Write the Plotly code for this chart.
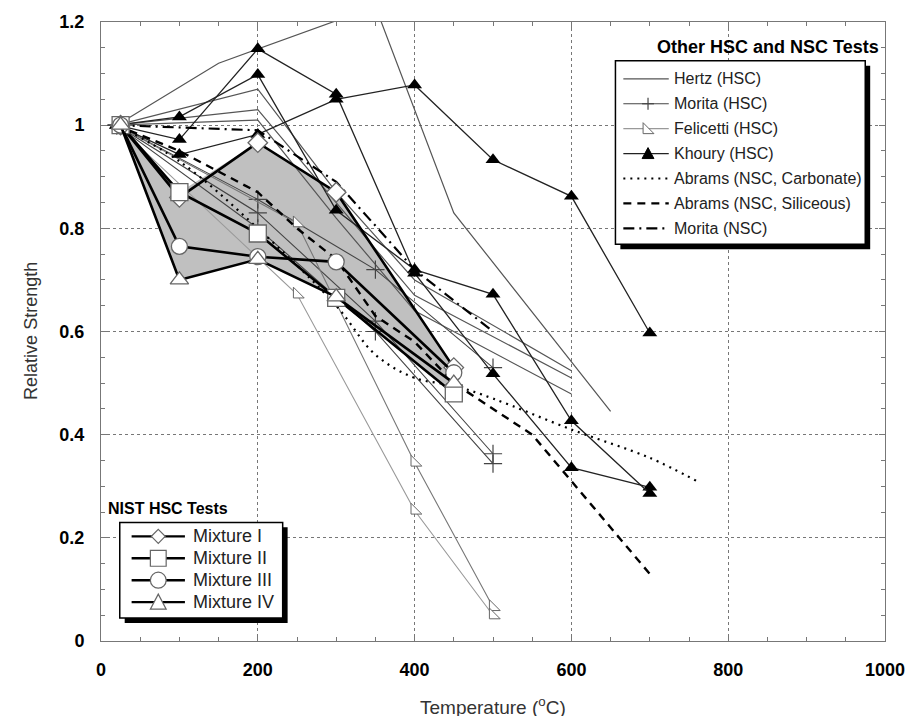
import plotly.graph_objects as go

# ---------------- data ----------------
nist_T = [25, 100, 200, 300, 450]
mix1 = [1.0, 0.86, 0.966, 0.87, 0.53]
mix2 = [1.0, 0.87, 0.79, 0.665, 0.48]
mix3 = [1.0, 0.765, 0.745, 0.735, 0.52]
mix4 = [1.0, 0.70, 0.74, 0.667, 0.50]

hertz1_T = [20, 150, 350, 450, 650]
hertz1_R = [1.0, 1.12, 1.23, 0.83, 0.445]
hertz_T = [20, 200, 300, 400, 600]
hertz2_R = [1.0, 1.07, 0.87, 0.70, 0.524]
hertz3_R = [1.0, 1.03, 0.85, 0.67, 0.51]
hertz4_R = [1.0, 1.01, 0.82, 0.64, 0.479]

morita_T = [20, 200, 350, 500]
morita1_R = [1.0, 0.856, 0.72, 0.53]
morita2_R = [1.0, 0.83, 0.62, 0.363]
morita3_R = [1.0, 0.80, 0.60, 0.344]

felicetti_T = [20, 250, 400, 500]
felicetti1_R = [1.0, 0.81, 0.346, 0.066]
felicetti2_R = [1.0, 0.672, 0.253, 0.05]

khoury_T = [20, 100, 200, 300, 400, 500, 600, 700]
khouryA_R = [1.0, 0.972, 1.148, 1.06, 0.713, 0.518, 0.336, 0.298]
khouryB_R = [1.0, 0.943, 0.982, 1.05, 1.078, 0.933, 0.862, 0.597]
khouryC_R = [1.0, 1.016, 1.098, 0.835, 0.72, 0.672, 0.427, 0.286]

abramsC_T = [20, 100, 200, 300, 350, 400, 450, 500, 600, 700, 760]
abramsC_R = [1.0, 0.93, 0.80, 0.65, 0.555, 0.51, 0.495, 0.47, 0.41, 0.355, 0.31]
abramsS_T = [20, 100, 200, 250, 300, 350, 400, 450, 550, 600, 700]
abramsS_R = [1.0, 0.95, 0.87, 0.80, 0.74, 0.63, 0.58, 0.50, 0.40, 0.31, 0.13]
moritaN_T = [20, 200, 300, 400, 500]
moritaN_R = [1.0, 0.99, 0.89, 0.72, 0.60]

x_ticks = [0, 200, 400, 600, 800, 1000]
y_ticks = [0, 0.2, 0.4, 0.6, 0.8, 1.0, 1.2]
y_ticktext = ["0", "0.2", "0.4", "0.6", "0.8", "1", "1.2"]

legend1_title = "Other HSC and NSC Tests"
legend1_labels = ["Hertz (HSC)", "Morita (HSC)", "Felicetti (HSC)", "Khoury (HSC)",
                  "Abrams (NSC, Carbonate)", "Abrams (NSC, Siliceous)", "Morita (NSC)"]
legend2_title = "NIST HSC Tests"
legend2_labels = ["Mixture I", "Mixture II", "Mixture III", "Mixture IV"]

# ---------------- layout helpers ----------------
W, H = 917, 716
XL, XR, YT, YB = 101, 895, 20, 641


def px(x):
    return (x - XL) / (XR - XL)


def py(y):
    return (YB - y) / (YB - YT)


FONT = "Arial, Liberation Sans, sans-serif"
fig = go.Figure()

# gray envelope of NIST mixtures
mixes = [mix1, mix2, mix3, mix4]
upper = [max(m[i] for m in mixes) for i in range(len(nist_T))]
lower = [min(m[i] for m in mixes) for i in range(len(nist_T))]
fig.add_trace(go.Scatter(x=nist_T + nist_T[::-1], y=upper + lower[::-1], fill="toself",
                         fillcolor="#c0c0c0", line=dict(width=0), mode="lines",
                         hoverinfo="skip", showlegend=False))

# Hertz
for T, R in [(hertz1_T, hertz1_R), (hertz_T, hertz2_R), (hertz_T, hertz3_R), (hertz_T, hertz4_R)]:
    fig.add_trace(go.Scatter(x=T, y=R, mode="lines", line=dict(color="#555", width=1.2),
                             showlegend=False, cliponaxis=True))
# Morita HSC
for R in [morita1_R, morita2_R, morita3_R]:
    fig.add_trace(go.Scatter(x=morita_T, y=R, mode="lines+markers",
                             line=dict(color="#444", width=1.1),
                             marker=dict(symbol="cross-thin", size=13,
                                         line=dict(color="#444", width=1.2)),
                             showlegend=False))
# Felicetti
for R, c in [(felicetti1_R, "#777"), (felicetti2_R, "#999")]:
    fig.add_trace(go.Scatter(x=felicetti_T, y=R, mode="lines+markers",
                             line=dict(color=c, width=1.1),
                             marker=dict(symbol="triangle-sw", size=12, color="white",
                                         line=dict(color="#666", width=1)),
                             showlegend=False))
# Khoury
for R in [khouryA_R, khouryB_R, khouryC_R]:
    fig.add_trace(go.Scatter(x=khoury_T, y=R, mode="lines+markers",
                             line=dict(color="#222", width=1.3),
                             marker=dict(symbol="triangle-up", size=13, color="black"),
                             showlegend=False))
# Abrams / Morita NSC
fig.add_trace(go.Scatter(x=abramsC_T, y=abramsC_R, mode="lines",
                         line=dict(color="black", width=2.2, dash="2px,5px"),
                         line_shape="spline", showlegend=False))
fig.add_trace(go.Scatter(x=abramsS_T, y=abramsS_R, mode="lines",
                         line=dict(color="black", width=2.4, dash="8px,6px"), showlegend=False))
fig.add_trace(go.Scatter(x=moritaN_T, y=moritaN_R, mode="lines",
                         line=dict(color="black", width=2.2, dash="11px,5px,2px,5px"),
                         showlegend=False))

# NIST mixtures
nist_symbols = ["diamond", "square", "circle", "triangle-up"]
nist_sizes = [15, 17, 16, 16]
for m, s, sz in zip(mixes, nist_symbols, nist_sizes):
    fig.add_trace(go.Scatter(x=nist_T, y=m, mode="lines+markers",
                             line=dict(color="black", width=2.6),
                             marker=dict(symbol=s, size=sz, color="white",
                                         line=dict(color="#666", width=1.3)),
                             showlegend=False))

shapes = []
annots = []


def box_with_shadow(x0, y0, x1, y1, off=5):
    shapes.append(dict(type="rect", xref="paper", yref="paper", x0=px(x0 + off), x1=px(x1 + off),
                       y0=py(y1 + off), y1=py(y0 + off), fillcolor="black",
                       line=dict(width=0), layer="above"))
    shapes.append(dict(type="rect", xref="paper", yref="paper", x0=px(x0), x1=px(x1),
                       y0=py(y1), y1=py(y0), fillcolor="white",
                       line=dict(color="black", width=1.5), layer="above"))


def hline(x0, x1, y, color, width, dash="solid"):
    shapes.append(dict(type="line", xref="paper", yref="paper", x0=px(x0), x1=px(x1),
                       y0=py(y), y1=py(y), line=dict(color=color, width=width, dash=dash),
                       layer="above"))


def path(pts, fill, line_color, lw=1):
    d = "M " + " L ".join(f"{px(a):.5f},{py(b):.5f}" for a, b in pts) + " Z"
    shapes.append(dict(type="path", xref="paper", yref="paper", path=d, fillcolor=fill,
                       line=dict(color=line_color, width=lw), layer="above"))


# ---- legend 1 ----
box_with_shadow(622, 59, 875, 243)
annots.append(dict(text=legend1_title, xref="paper", yref="paper", x=px(891), y=py(45),
                   xanchor="right", yanchor="middle", showarrow=False,
                   font=dict(family=FONT, size=18, color="black", weight="bold")))
for i, lab in enumerate(legend1_labels):
    yy = 77 + 25 * i
    annots.append(dict(text=lab, xref="paper", yref="paper", x=px(679), y=py(yy),
                       xanchor="left", yanchor="middle", showarrow=False,
                       font=dict(family=FONT, size=16, color="#222")))
    cx = 655
    if i == 0:
        hline(630, 676, yy, "#555", 1.2)
    elif i == 1:
        hline(630, 676, yy, "#444", 1.1)
        hline(cx - 6, cx + 6, yy, "#444", 1.2)
        shapes.append(dict(type="line", xref="paper", yref="paper", x0=px(cx), x1=px(cx),
                           y0=py(yy - 6), y1=py(yy + 6), line=dict(color="#444", width=1.2),
                           layer="above"))
    elif i == 2:
        hline(630, 676, yy, "#999", 1.1)
        path([(cx - 5, yy - 6), (cx - 5, yy + 5), (cx + 6, yy + 5)], "white", "#666")
    elif i == 3:
        hline(630, 676, yy, "#222", 1.3)
        path([(cx - 6, yy + 5), (cx + 6, yy + 5), (cx, yy - 6)], "black", "black")
    elif i == 4:
        hline(630, 676, yy, "black", 2.2, "2px,5px")
    elif i == 5:
        hline(630, 676, yy, "black", 2.4, "8px,6px")
    else:
        hline(630, 676, yy, "black", 2.2, "11px,5px,2px,5px")

# ---- legend 2 ----
box_with_shadow(120, 522, 285, 618)
annots.append(dict(text=legend2_title, xref="paper", yref="paper", x=px(106), y=py(508),
                   xanchor="left", yanchor="middle", showarrow=False,
                   font=dict(family=FONT, size=16, color="black", weight="bold")))
for i, lab in enumerate(legend2_labels):
    yy = 536 + 22 * i
    annots.append(dict(text=lab, xref="paper", yref="paper", x=px(192), y=py(yy),
                       xanchor="left", yanchor="middle", showarrow=False,
                       font=dict(family=FONT, size=18, color="#222")))
    hline(132, 186, yy, "black", 2.4)
    cx = 159
    if i == 0:
        path([(cx, yy - 7), (cx + 7, yy), (cx, yy + 7), (cx - 7, yy)], "white", "#666", 1.2)
    elif i == 1:
        path([(cx - 8, yy - 8), (cx + 8, yy - 8), (cx + 8, yy + 8), (cx - 8, yy + 8)], "white", "#666", 1.2)
    elif i == 2:
        shapes.append(dict(type="circle", xref="paper", yref="paper", x0=px(cx - 8), x1=px(cx + 8),
                           y0=py(yy + 8), y1=py(yy - 8), fillcolor="white",
                           line=dict(color="#666", width=1.2), layer="above"))
    else:
        path([(cx - 8, yy + 7), (cx + 8, yy + 7), (cx, yy - 8)], "white", "#666", 1.2)

# axis titles
annots.append(dict(text="Relative Strength", xref="paper", yref="paper", x=px(30), y=py(330),
                   textangle=-90, xanchor="center", yanchor="middle", showarrow=False,
                   font=dict(family=FONT, size=18, color="#333")))
annots.append(dict(text="Temperature (<sup>o</sup>C)", xref="paper", yref="paper", x=px(498),
                   y=py(706), xanchor="center", yanchor="middle", showarrow=False,
                   font=dict(family=FONT, size=19, color="#333")))

axis_common = dict(showline=True, linecolor="#777", linewidth=1, mirror="allticks",
                   ticks="inside", ticklen=6, tickcolor="#777", showgrid=True,
                   gridcolor="#777", griddash="dot", gridwidth=1, zeroline=False,
                   tickfont=dict(family=FONT, size=18, color="black", weight="bold"))

fig.update_layout(
    width=W, height=H, margin=dict(l=XL, r=W - XR, t=YT, b=H - YB),
    paper_bgcolor="white", plot_bgcolor="white", showlegend=False,
    xaxis=dict(range=[0, 1000], tickvals=x_ticks, ticklabelstandoff=12,
               minor=dict(dtick=50, ticks="inside", ticklen=4, tickcolor="#777", showgrid=False),
               **axis_common),
    yaxis=dict(range=[0, 1.2], tickvals=y_ticks, ticktext=y_ticktext, ticklabelstandoff=12,
               minor=dict(dtick=0.05, ticks="inside", ticklen=4, tickcolor="#777", showgrid=False),
               **axis_common),
    shapes=shapes, annotations=annots,
)

fig.write_html("out.html")
